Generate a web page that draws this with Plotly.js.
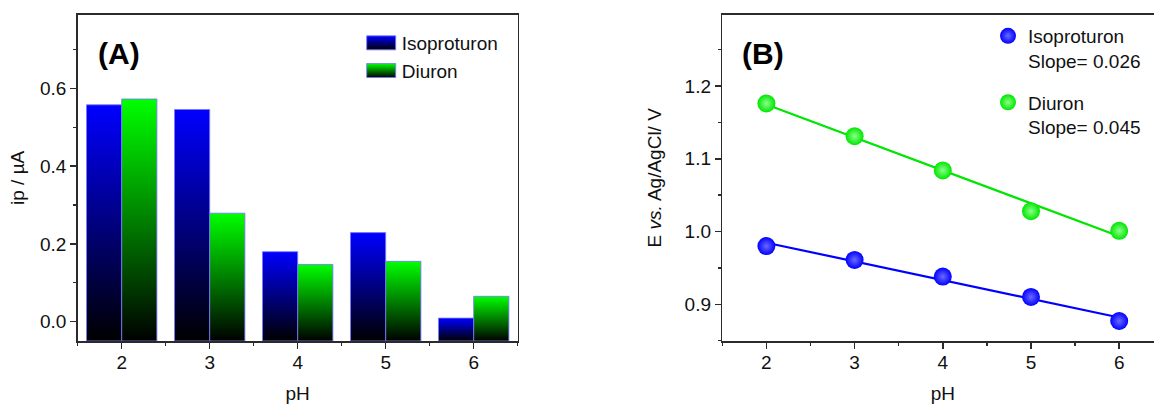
<!DOCTYPE html>
<html><head><meta charset="utf-8">
<script src="https://cdn.plot.ly/plotly-3.0.1.min.js"></script>
<style>html,body{margin:0;padding:0;overflow:hidden;background:#fff;}#chart{width:1170px;height:405px;}</style>
</head><body><div id="chart"></div>
<script>
// ---- data ----
const pH = [2, 3, 4, 5, 6];
const ipIsoproturon = [0.558, 0.546, 0.180, 0.229, 0.009];
const ipDiuron = [0.573, 0.279, 0.147, 0.155, 0.065];
const eIsoproturon = [0.980, 0.961, 0.938, 0.910, 0.877];
const eDiuron = [1.176, 1.131, 1.084, 1.028, 1.001];
const seriesNames = ['Isoproturon', 'Diuron'];
const slopeLabels = ['Slope= 0.026', 'Slope= 0.045'];
const panelLabels = ['(A)', '(B)'];
const yTicksA = [0, 0.2, 0.4, 0.6];
const yTicksB = [0.9, 1.0, 1.1, 1.2];

// ---- styles ----
const FONT = 'Arial, "Liberation Sans", sans-serif';
const W = 1170, H = 405;
const barTop = ['#0000ff', '#00ff00'];
const ptColor = ['#0000ff', '#00e600'];
const ptLight = ['#6a6aff', '#8cff8c'];
const yRangeA = [-0.05, 0.79];
const yRangeB = [0.8495, 1.298];
const barW = 0.4;

const traces = [];
// bars as gradient-filled rectangles built from the data
[ipIsoproturon, ipDiuron].forEach((vals, s) => {
  vals.forEach((v, i) => {
    const x0 = pH[i] + (s === 0 ? -barW : 0);
    const x1 = x0 + barW;
    const b = yRangeA[0];
    traces.push({
      type: 'scatter', mode: 'lines', xaxis: 'x', yaxis: 'y',
      x: [x0, x1, x1, x0, x0], y: [b, b, v, v, b],
      fill: 'toself',
      fillgradient: {type: 'vertical', colorscale: [[0, '#000000'], [1, barTop[s]]]},
      line: {color: 'rgba(120,120,255,0.85)', width: 1},
      name: seriesNames[s], legendgroup: 'bar' + s, legend: 'legend',
      showlegend: i === 0, hoverinfo: 'skip'
    });
  });
});

// linear fits for panel B
function fit(xs, ys) {
  const n = xs.length;
  const mx = xs.reduce((a, b) => a + b, 0) / n;
  const my = ys.reduce((a, b) => a + b, 0) / n;
  let sxy = 0, sxx = 0;
  for (let i = 0; i < n; i++) { sxy += (xs[i] - mx) * (ys[i] - my); sxx += (xs[i] - mx) ** 2; }
  const m = sxy / sxx;
  return {m: m, c: my - m * mx};
}
[eIsoproturon, eDiuron].forEach((vals, s) => {
  const f = fit(pH, vals);
  const xs = [Math.min(...pH), Math.max(...pH)];
  traces.push({
    type: 'scatter', mode: 'lines', xaxis: 'x2', yaxis: 'y2',
    x: xs, y: xs.map(x => f.c + f.m * x),
    line: {color: ptColor[s], width: 2.2}, showlegend: false, hoverinfo: 'skip'
  });
});
[eIsoproturon, eDiuron].forEach((vals, s) => {
  traces.push({
    type: 'scatter', mode: 'markers', xaxis: 'x2', yaxis: 'y2',
    x: pH, y: vals,
    marker: {size: 18, color: ptColor[s], gradient: {type: 'radial', color: ptLight[s]}, line: {width: 0}},
    name: seriesNames[s] + '<br>' + slopeLabels[s],
    legend: 'legend2', legendgroup: 'pt' + s, showlegend: true, hoverinfo: 'skip'
  });
});

const axisCommon = {
  showgrid: false, zeroline: false, showline: true, mirror: true,
  linecolor: '#2b2b2b', linewidth: 1.5,
  ticks: 'outside', ticklen: 6, tickwidth: 1.5, tickcolor: '#2b2b2b',
  tickfont: {family: FONT, size: 19, color: '#111'},
  automargin: false
};
function xAx(dom, anchor) {
  return Object.assign({}, axisCommon, {
    domain: dom, anchor: anchor, range: [1.5, 6.5], tickvals: pH, ticktext: pH.map(String),
    ticklabelstandoff: -2,
    minor: {ticks: 'outside', ticklen: 3, tickwidth: 1.5, tickcolor: '#2b2b2b', dtick: 0.5, tick0: 0},
    title: {text: 'pH', font: {family: FONT, size: 19, color: '#111'}, standoff: 14}
  });
}
const yDom = [64 / H, 390.3 / H];

const layout = {
  width: W, height: H,
  margin: {l: 0, r: 0, t: 0, b: 0, pad: 0},
  paper_bgcolor: '#fff', plot_bgcolor: 'rgba(0,0,0,0)',
  font: {family: FONT, color: '#111'},
  xaxis: xAx([77.7 / W, 517.7 / W], 'y'),
  xaxis2: xAx([722.3 / W, 1163.3 / W], 'y2'),
  yaxis: Object.assign({}, axisCommon, {
    domain: yDom, anchor: 'x', range: yRangeA, tickvals: yTicksA, tickformat: '.1f',
    minor: {ticks: 'outside', ticklen: 3, tickwidth: 1.5, tickcolor: '#2b2b2b', dtick: 0.1, tick0: 0},
    title: {text: 'ip / µA', font: {family: FONT, size: 19, color: '#111'}, standoff: 10}
  }),
  yaxis2: Object.assign({}, axisCommon, {
    domain: yDom, anchor: 'x2', range: yRangeB, tickvals: yTicksB, tickformat: '.1f',
    minor: {ticks: 'outside', ticklen: 3, tickwidth: 1.5, tickcolor: '#2b2b2b', dtick: 0.05, tick0: 0},
    title: {text: 'E <i>vs.</i> Ag/AgCl/ V', font: {family: FONT, size: 19, color: '#111'}, standoff: 18}
  }),
  legend: {
    x: 361.7 / W, xanchor: 'left', y: 1 - 24 / H, yanchor: 'top',
    bgcolor: 'rgba(0,0,0,0)', borderwidth: 0,
    font: {family: FONT, size: 19, color: '#111'}, tracegroupgap: 0
  },
  legend2: {
    x: 988 / W, xanchor: 'left', y: 1 - 17 / H, yanchor: 'top', valign: 'top',
    bgcolor: 'rgba(0,0,0,0)', borderwidth: 0,
    font: {family: FONT, size: 19, color: '#111'}, tracegroupgap: 14
  },
  annotations: panelLabels.map((t, k) => ({
    text: '<b>' + t + '</b>', xref: 'paper', yref: 'paper',
    x: (k === 0 ? 118.5 : 763) / W, y: 1 - 54 / H, xanchor: 'center', yanchor: 'middle',
    showarrow: false, font: {family: FONT, size: 30, color: '#000'}
  }))
};

const gd = document.getElementById('chart');
Plotly.newPlot(gd, traces, layout, {staticPlot: true, displayModeBar: false}).then(function () {
  // draw legend swatches for panel A as gradient boxes like the bars
  const ns = 'http://www.w3.org/2000/svg';
  const svg = gd.querySelector('svg.main-svg');
  let defs = svg.querySelector('defs');
  if (!defs) { defs = document.createElementNS(ns, 'defs'); svg.insertBefore(defs, svg.firstChild); }
  gd.querySelectorAll('g.legend g.traces').forEach(function (it) {
    const txt = it.querySelector('text.legendtext');
    const s = txt ? seriesNames.indexOf(txt.textContent.trim()) : -1;
    if (s < 0) return;
    const id = 'swatchgrad' + s;
    const lg = document.createElementNS(ns, 'linearGradient');
    lg.setAttribute('id', id);
    lg.setAttribute('x1', '0'); lg.setAttribute('y1', '0'); lg.setAttribute('x2', '0'); lg.setAttribute('y2', '1');
    [[0, barTop[s]], [1, '#000000']].forEach(function (st) {
      const e = document.createElementNS(ns, 'stop');
      e.setAttribute('offset', st[0]); e.setAttribute('stop-color', st[1]);
      lg.appendChild(e);
    });
    defs.appendChild(lg);
    const d = 'M5,-7h29v14h-29z';
    const f = it.querySelector('path.js-fill');
    if (f) { f.setAttribute('d', d); f.style.fill = 'url(#' + id + ')'; f.style.fillOpacity = 1; }
    const l = it.querySelector('path.js-line');
    if (l) { l.setAttribute('d', d); l.style.fill = 'none'; }
  });
});
</script>
</body></html>
